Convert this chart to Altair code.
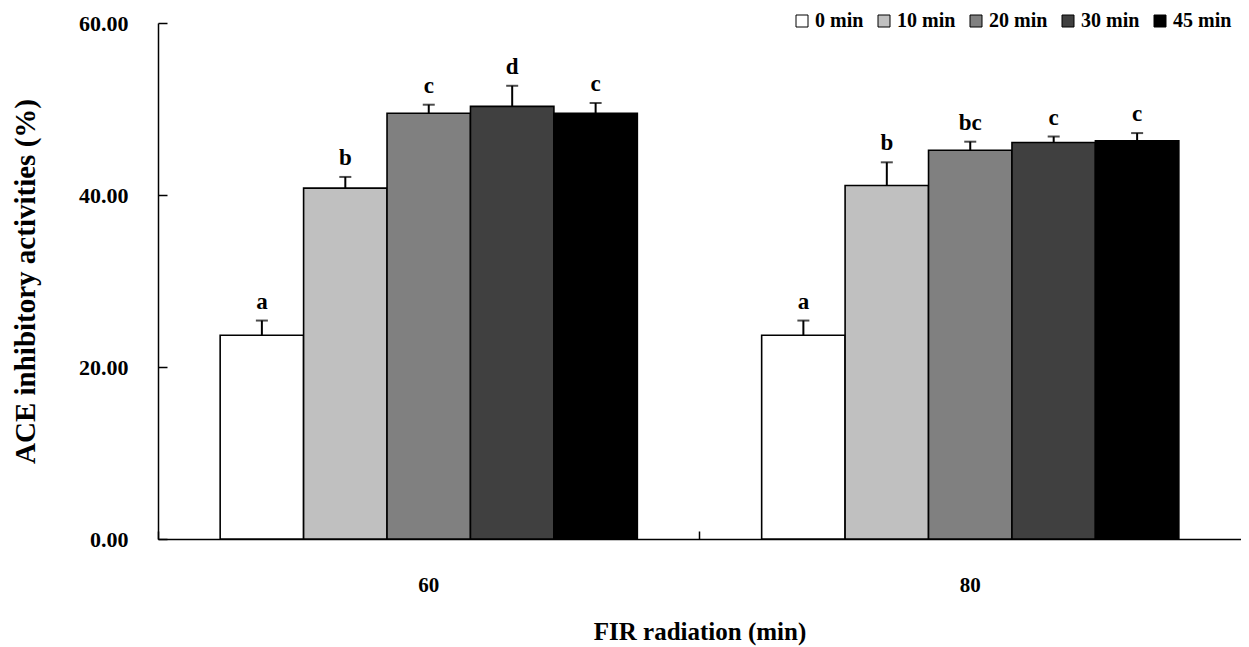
import altair as alt
import pandas as pd

fir_levels = ["60", "80"]
times = ["0 min", "10 min", "20 min", "30 min", "45 min"]
colors = ["#FFFFFF", "#C0C0C0", "#808080", "#404040", "#000000"]

means_60 = [23.7, 40.8, 49.5, 50.3, 49.5]
errs_60 = [1.7, 1.3, 1.0, 2.4, 1.2]
letters_60 = ["a", "b", "c", "d", "c"]

means_80 = [23.7, 41.1, 45.2, 46.1, 46.3]
errs_80 = [1.7, 2.7, 1.0, 0.7, 0.9]
letters_80 = ["a", "b", "bc", "c", "c"]

rows = []
for fir, means, errs, lets in [("60", means_60, errs_60, letters_60),
                               ("80", means_80, errs_80, letters_80)]:
    for t, m, e, l in zip(times, means, errs, lets):
        rows.append({"fir": fir, "time": t, "mean": m, "top": m + e, "letter": l})
df = pd.DataFrame(rows)

FONT = "Liberation Serif"

x_scale = alt.Scale(domain=fir_levels, paddingInner=0, paddingOuter=0)
xo = alt.XOffset("time:N", sort=times,
                 scale=alt.Scale(domain=times, paddingInner=0, paddingOuter=0.745))
y_scale = alt.Scale(domain=[0, 60], nice=False)

base = alt.Chart(df)

bars = base.mark_bar(stroke="black", strokeWidth=1.6).encode(
    x=alt.X("fir:N", scale=x_scale, axis=alt.Axis(
        title="FIR radiation (min)", labelAngle=0, ticks=False,
        labelPadding=35, titlePadding=24, domainColor="black", domainWidth=1.5,
        labelFontSize=21, titleFontSize=25, labelFont=FONT, titleFont=FONT,
        labelFontWeight="bold", titleFontWeight="bold",
        labelColor="black", titleColor="black", labelBaseline="top")),
    xOffset=xo,
    y=alt.Y("mean:Q", scale=y_scale, axis=alt.Axis(
        values=[0, 20, 40, 60], format=".2f", ticks=False, labelPadding=30,
        title="ACE inhibitory activities (%)", titlePadding=38, grid=False,
        domainColor="black", domainWidth=1.5,
        labelFontSize=22, titleFontSize=29, labelFont=FONT, titleFont=FONT,
        labelFontWeight="bold", titleFontWeight="bold",
        labelColor="black", titleColor="black")),
    color=alt.Color("time:N", sort=times,
                    scale=alt.Scale(domain=times, range=colors),
                    legend=alt.Legend(
                        title=None, orient="none", legendX=634, legendY=-12,
                        direction="horizontal", symbolType="square",
                        symbolSize=144, symbolStrokeColor="black",
                        symbolStrokeWidth=1, labelFont=FONT, labelFontSize=20,
                        labelFontWeight="bold", labelColor="black",
                        labelOffset=3, columnPadding=10)),
)

stems = base.mark_rule(color="black", strokeWidth=2).encode(
    x=alt.X("fir:N", scale=x_scale, axis=alt.Axis(
        orient="bottom", offset=-8, tickSize=8, labels=False, domain=False,
        title=None, bandPosition=0, tickColor="black", tickWidth=1.5)),
    xOffset=xo,
    y=alt.Y("mean:Q", scale=y_scale, axis=alt.Axis(
        orient="left", offset=-9, tickSize=9, labels=False, domain=False,
        title=None, grid=False, values=[0, 20, 40, 60],
        tickColor="black", tickWidth=1.5)),
    y2="top:Q",
)

caps = base.mark_tick(color="black", thickness=2, size=12).encode(
    x=alt.X("fir:N", scale=x_scale, axis=None),
    xOffset=xo,
    y=alt.Y("top:Q", scale=y_scale, axis=None),
)

labels = base.mark_text(baseline="bottom", dy=-7, font=FONT, fontSize=23,
                        fontWeight="bold", color="black").encode(
    x=alt.X("fir:N", scale=x_scale, axis=None),
    xOffset=xo,
    y=alt.Y("top:Q", scale=y_scale, axis=None),
    text="letter:N",
)

chart = alt.layer(bars, stems, caps, labels).resolve_axis(
    x="independent", y="independent"
).properties(
    width=1083, height=516,
    autosize=alt.AutoSizeParams(type="none"),
    padding={"left": 150, "top": 15, "right": 0, "bottom": 110},
).configure_view(stroke=None).configure_axis(grid=False)

chart.save("out.html", embed_options={"renderer": "svg", "actions": False})
